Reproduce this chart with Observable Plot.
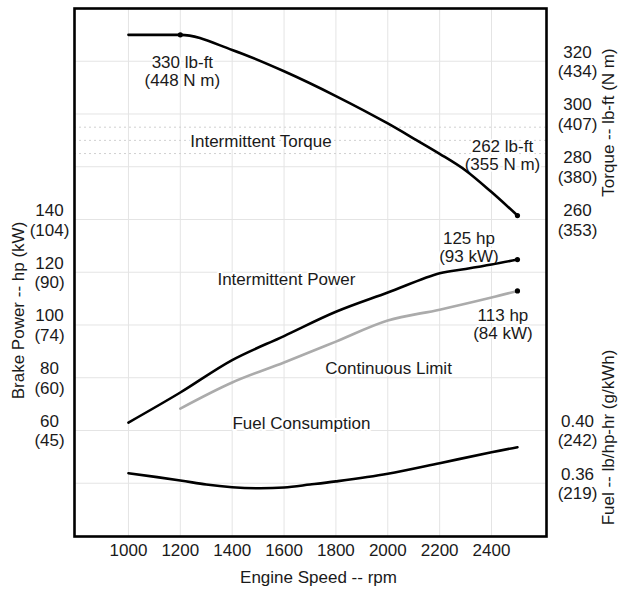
<!DOCTYPE html>
<html>
<head>
<meta charset="utf-8">
<script src="https://cdn.jsdelivr.net/npm/d3@7"></script>
<script src="https://cdn.jsdelivr.net/npm/@observablehq/plot@0.6"></script>
<style>
  body { margin: 0; background: #fff; }
  #chart svg { display: block; font-family: "Liberation Sans", Arial, sans-serif; }
</style>
</head>
<body>
<div id="chart"></div>
<script>
// ---- data ----
const rpmTicks = [1000, 1200, 1400, 1600, 1800, 2000, 2200, 2400];

const torqueRpm = [1000, 1200, 1400, 1600, 1800, 2000, 2100, 2200, 2300, 2400, 2500];
const torqueLbft = [330, 330, 324.3, 316.2, 306.8, 296.4, 290.7, 284.9, 278.6, 270.4, 261.5];

const powerRpm = [1000, 1200, 1400, 1600, 1800, 2000, 2200, 2300, 2400, 2500];
const powerHp = [63, 74.4, 86.7, 95.8, 105, 112.3, 119.6, 121.2, 122.9, 124.8];

const contRpm = [1200, 1400, 1600, 1800, 2000, 2200, 2400, 2500];
const contHp = [68.3, 78.2, 85.8, 93.7, 101.7, 105.8, 110.4, 112.9];

const fuelRpm = [1000, 1200, 1300, 1400, 1500, 1600, 1700, 1800, 2000, 2200, 2400, 2500];
const fuelLbHpHr = [0.3676, 0.3621, 0.359, 0.357, 0.3562, 0.3568, 0.359, 0.3614, 0.3672, 0.3752, 0.3835, 0.3873];

const powerTickValues = [60, 80, 100, 120, 140];
const powerTickKw = [45, 60, 74, 90, 104];
const torqueTickValues = [260, 280, 300, 320];
const torqueTickNm = [353, 380, 407, 434];
const fuelTickValues = [0.40, 0.36];
const fuelTickGkwh = [242, 219];

const gridPower = [40, 60, 80, 100, 120, 140, 160, 180, 200];
const minorTorque = [285, 290, 295];

const annoText = ["330 lb-ft\n(448 N m)", "Intermittent Torque", "262 lb-ft\n(355 N m)",
  "125 hp\n(93 kW)", "Intermittent Power", "113 hp\n(84 kW)", "Continuous Limit", "Fuel Consumption"];
const annoRpm = [1208, 1511, 2442, 2313, 1609, 2444, 2003, 1667];
const annoPower = [196.1, 169.7, 164.3, 129.6, 117.3, 100.2, 83.5, 62.7];

// ---- scale conversions onto the common (power) y scale ----
const torqueToY = t => t - 120;
const fuelToY = f => 60 + (f - 0.40) * 500;

const torqueData = torqueRpm.map((r, i) => ({rpm: r, v: torqueToY(torqueLbft[i])}));
const powerData = powerRpm.map((r, i) => ({rpm: r, v: powerHp[i]}));
const contData = contRpm.map((r, i) => ({rpm: r, v: contHp[i]}));
const fuelData = fuelRpm.map((r, i) => ({rpm: r, v: fuelToY(fuelLbHpHr[i])}));
const endDots = [
  torqueData[1], torqueData[torqueData.length - 1],
  powerData[powerData.length - 1], contData[contData.length - 1]
];
const annos = annoText.map((t, i) => ({t, rpm: annoRpm[i], v: annoPower[i]}));

const fs = 17;
const ink = "#1a1a1a";
const crv = "catmull-rom";

const chart = Plot.plot({
  width: 621,
  height: 590,
  marginLeft: 74,
  marginRight: 75,
  marginTop: 8,
  marginBottom: 54,
  style: {fontFamily: "'Liberation Sans', Arial, sans-serif", background: "#fff"},
  x: {domain: [792, 2612], axis: null},
  y: {domain: [19.8, 220], axis: null},
  marks: [
    Plot.ruleX(rpmTicks, {x: d => d, stroke: "#e4e4e4", strokeWidth: 1}),
    Plot.ruleY(gridPower, {y: d => d, stroke: "#e4e4e4", strokeWidth: 1}),
    Plot.ruleY(minorTorque, {y: torqueToY, stroke: "#d0d0d0", strokeWidth: 1, strokeDasharray: "2,3"}),
    Plot.text(annos, {x: "rpm", y: "v", text: "t", fontSize: fs, fill: ink,
      stroke: "white", strokeWidth: 4, lineHeight: 1.05}),
    Plot.line(torqueData, {x: "rpm", y: "v", stroke: "#000", strokeWidth: 2.6, curve: "monotone-x"}),
    Plot.line(powerData, {x: "rpm", y: "v", stroke: "#000", strokeWidth: 2.6, curve: crv}),
    Plot.line(contData, {x: "rpm", y: "v", stroke: "#ababab", strokeWidth: 2.6, curve: crv}),
    Plot.line(fuelData, {x: "rpm", y: "v", stroke: "#000", strokeWidth: 2.6, curve: crv}),
    Plot.dot(endDots, {x: "rpm", y: "v", r: 2.6, fill: "#000", stroke: null}),
    Plot.frame({stroke: "#000", strokeWidth: 2.6}),
    // left tick labels
    Plot.text(powerTickValues, {y: d => d, text: (d, i) => `${d}\n(${powerTickKw[i]})`,
      frameAnchor: "left", dx: -25, textAnchor: "middle", fontSize: fs, fill: ink, lineHeight: 1.15}),
    // right torque labels
    Plot.text(torqueTickValues, {y: torqueToY, text: (d, i) => `${d}\n(${torqueTickNm[i]})`,
      frameAnchor: "right", dx: 31, textAnchor: "middle", fontSize: fs, fill: ink, lineHeight: 1.15}),
    // right fuel labels
    Plot.text(fuelTickValues, {y: fuelToY, text: (d, i) => `${d.toFixed(2)}\n(${fuelTickGkwh[i]})`,
      frameAnchor: "right", dx: 31, textAnchor: "middle", fontSize: fs, fill: ink, lineHeight: 1.15}),
    // x tick labels
    Plot.text(rpmTicks, {x: d => d, text: d => String(d), frameAnchor: "bottom", dy: 19,
      fontSize: fs, fill: ink}),
    // axis titles
    Plot.text(["Engine Speed -- rpm"], {frameAnchor: "bottom", dy: 46, dx: 8, fontSize: fs, fill: ink}),
    Plot.text(["Brake Power -- hp (kW)"], {frameAnchor: "left", textAnchor: "middle", dx: -56, dy: 38, rotate: -90, fontSize: fs, fill: ink}),
    Plot.text(["Torque -- lb-ft (N m)"], {frameAnchor: "right", textAnchor: "middle", dx: 62, dy: -150, rotate: -90, fontSize: fs, fill: ink}),
    Plot.text(["Fuel -- lb/hp-hr (g/kWh)"], {frameAnchor: "right", textAnchor: "middle", dx: 62, dy: 165, rotate: -90, fontSize: fs, fill: ink})
  ]
});
document.getElementById("chart").appendChild(chart);
</script>
</body>
</html>
